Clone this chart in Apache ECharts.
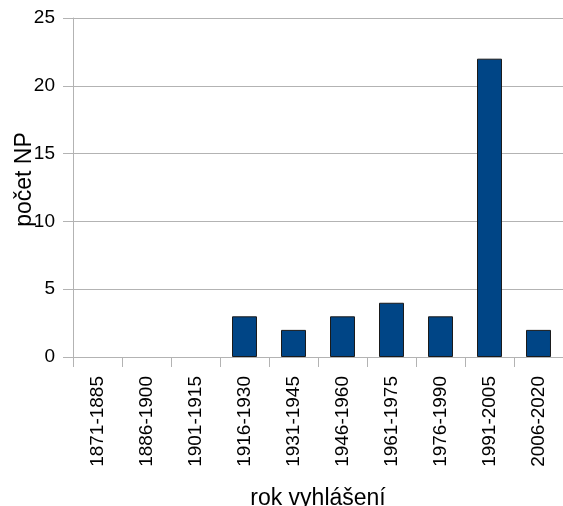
<!DOCTYPE html>
<html>
<head>
<meta charset="utf-8">
<script src="https://cdn.jsdelivr.net/npm/echarts@6/dist/echarts.min.js"></script>
<style>
  html, body { margin: 0; padding: 0; background: #fff; }
  #chart { width: 563px; height: 506px; }
</style>
</head>
<body>
<div id="chart"></div>
<script>
// období vyhlášení a počet národních parků
var periods = ['1871-1885', '1886-1900', '1901-1915', '1916-1930', '1931-1945',
               '1946-1960', '1961-1975', '1976-1990', '1991-2005', '2006-2020'];
var parkCounts = [0, 0, 0, 3, 2, 3, 4, 3, 22, 2];

var chart = echarts.init(document.getElementById('chart'));
var axisGray = '#b3b3b3';
var font = 'Liberation Sans, Arial, sans-serif';

chart.setOption({
  animation: false,
  grid: { left: 73, right: 0, top: 18, bottom: 149, outerBoundsMode: 'none' },
  xAxis: {
    type: 'category',
    data: periods,
    name: 'rok vyhlášení',
    nameLocation: 'middle',
    nameGap: 130,
    nameMoveOverlap: false,
    nameTextStyle: { fontFamily: font, fontSize: 23, color: '#000' },
    axisLine: { lineStyle: { color: axisGray } },
    axisTick: { show: true, length: 10, lineStyle: { color: axisGray } },
    axisLabel: { rotate: 90, interval: 0, margin: 19, fontFamily: font, fontSize: 19, color: '#000' }
  },
  yAxis: {
    type: 'value',
    min: 0,
    max: 25,
    interval: 5,
    name: 'počet NP',
    nameLocation: 'middle',
    nameGap: 37,
    nameMoveOverlap: false,
    // posun popisku o kousek nahoru
    nameTextStyle: { fontFamily: font, fontSize: 23, color: '#000', padding: [0, 0, 0, 16] },
    axisLine: { show: true, lineStyle: { color: axisGray } },
    axisTick: { show: true, length: 10, lineStyle: { color: axisGray } },
    axisLabel: { margin: 18, fontFamily: font, fontSize: 19, color: '#000' },
    splitLine: { lineStyle: { color: axisGray } }
  },
  series: [{
    type: 'bar',
    // nulové hodnoty bez sloupce (jinak by se kreslil jen okraj)
    data: parkCounts.map(function (v) { return v === 0 ? '-' : v; }),
    barCategoryGap: '49%',
    itemStyle: { color: '#004586', borderColor: '#1a1a1a', borderWidth: 1 }
  }]
});
</script>
</body>
</html>
